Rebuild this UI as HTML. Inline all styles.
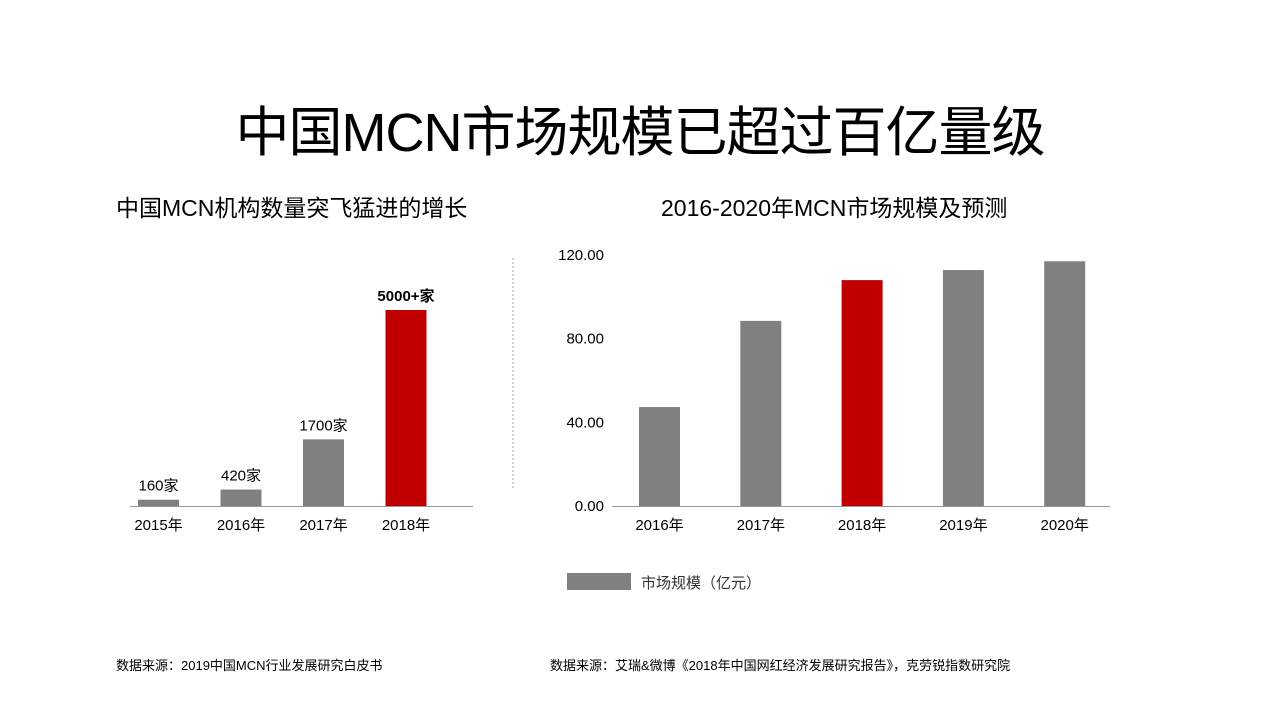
<!DOCTYPE html>
<html><head><meta charset="utf-8"><style>
body{margin:0;width:1280px;height:720px;background:#fff;font-family:"Liberation Sans","Noto Sans CJK SC",sans-serif;overflow:hidden;position:relative}
.t{position:absolute;white-space:nowrap;color:#000}
</style></head><body>
<div class="t" style="left:0;width:1280px;text-align:center;top:88px;font-size:54px;letter-spacing:-1px">中国MCN市场规模已超过百亿量级</div>
<div class="t" style="left:116px;top:189px;font-size:23px">中国MCN机构数量突飞猛进的增长</div>
<div class="t" style="left:661px;top:189px;font-size:23px">2016-2020年MCN市场规模及预测</div>
<div class="t" style="left:116px;top:655px;font-size:13px">数据来源：2019中国MCN行业发展研究白皮书</div>
<div class="t" style="left:550px;top:655px;font-size:13px">数据来源：艾瑞&amp;微博《2018年中国网红经济发展研究报告》，克劳锐指数研究院</div>
<svg width="1280" height="720" style="position:absolute;left:0;top:0">
<line x1="513" y1="258" x2="513" y2="490" stroke="#aaa" stroke-dasharray="2,2"/>
<g id="left"></g><g id="right"></g>
<rect x="567" y="573" width="64" height="17" fill="#808080"/>
<text x="641" y="588" font-size="15" fill="#333" font-family="Liberation Sans,Noto Sans CJK SC,sans-serif">市场规模（亿元）</text>
</svg>
<script>
const leftCats=["2015年","2016年","2017年","2018年"];
const leftVals=[160,420,1700,5000];
const leftLabels=["160家","420家","1700家","5000+家"];
const rightCats=["2016年","2017年","2018年","2019年","2020年"];
const rightVals=[47.3,88.5,108,112.8,117];
const rightTicks=[0,40,80,120];
const NS="http://www.w3.org/2000/svg";
const F="Liberation Sans,Noto Sans CJK SC,sans-serif";
function mk(p,tag,a,txt){const e=document.createElementNS(NS,tag);for(const k in a)e.setAttribute(k,a[k]);if(txt!==undefined)e.textContent=txt;p.appendChild(e);return e;}
// left
const L=document.getElementById('left');
const base=506;
const lx=i=>158.5+i*82.5, ly=v=>base-v/5000*196;
leftVals.forEach((v,i)=>{
 const r=mk(L,'rect',{x:lx(i)-20.5,y:ly(v),width:41,height:base-ly(v),fill:i==3?'#c00000':'#808080'});
 
 
 const t=mk(L,'text',{x:lx(i),y:ly(v)-9,'text-anchor':'middle','font-size':15,'font-family':F,'font-weight':i==3?'bold':'normal'},leftLabels[i]);
 
 
 const c=mk(L,'text',{x:lx(i),y:530,'text-anchor':'middle','font-size':15,'font-family':F},leftCats[i]);
 
 
});
const la=mk(L,'line',{x1:130,x2:473,y1:base+0.5,y2:base+0.5,stroke:'#999'});


// right
const R=document.getElementById('right');
const rx=i=>659.5+i*101.3, ry=v=>base-v/120*251;
rightTicks.forEach(t=>{
 const e=mk(R,'text',{x:604,y:ry(t)+5,'text-anchor':'end','font-size':15,'font-family':F},t.toFixed(2));
 
 
});
rightVals.forEach((v,i)=>{
 const r=mk(R,'rect',{x:rx(i)-20.5,y:ry(v),width:41,height:base-ry(v),fill:i==2?'#c00000':'#808080'});
 
 
 const c=mk(R,'text',{x:rx(i),y:530,'text-anchor':'middle','font-size':15,'font-family':F},rightCats[i]);
 
 
});
const ra=mk(R,'line',{x1:612,x2:1110,y1:base+0.5,y2:base+0.5,stroke:'#999'});


</script>
</body></html>
